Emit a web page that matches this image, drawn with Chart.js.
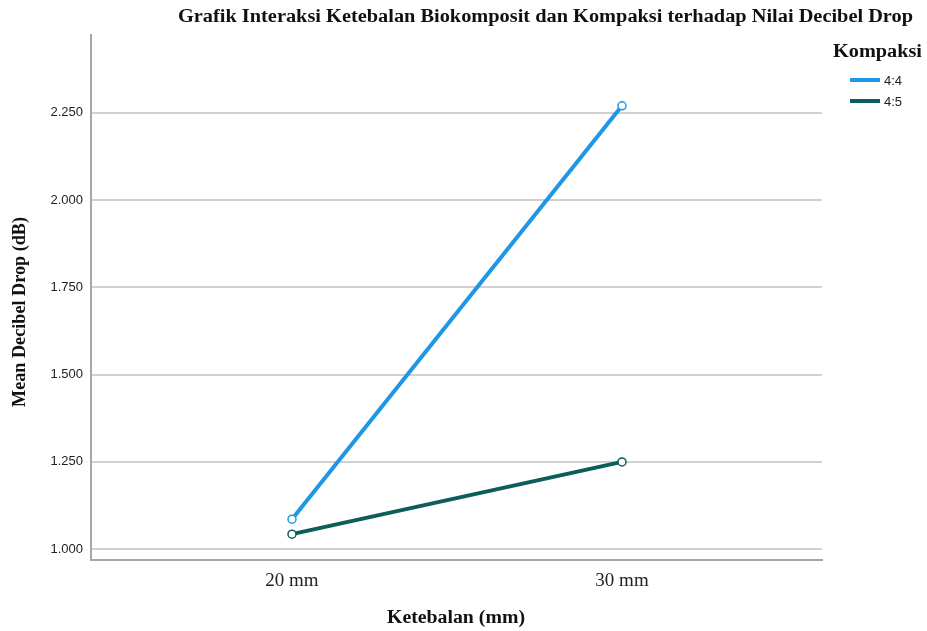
<!DOCTYPE html>
<html><head><meta charset="utf-8">
<script src="https://cdn.jsdelivr.net/npm/chart.js@4.4.1/dist/chart.umd.min.js"></script>
<style>html,body{margin:0;padding:0;background:#fff}#wrap{width:927px;height:631px;position:relative}</style>
</head><body><div id="wrap"><canvas id="c"></canvas></div>
<script>
const categories = [20, 30];
const categoryLabels = ['20 mm', '30 mm'];
const series44 = [1.086, 2.270];
const series45 = [1.043, 1.250];
const seriesNames = ['4:4', '4:5'];
const yTicks = [1.000, 1.250, 1.500, 1.750, 2.000, 2.250];
const titleText = 'Grafik Interaksi Ketebalan Biokomposit dan Kompaksi terhadap Nilai Decibel Drop';
const xTitle = 'Ketebalan (mm)';
const yTitle = 'Mean Decibel Drop (dB)';
const legendTitle = 'Kompaksi';
const colors = ['#1f96e6', '#0b5e5a'];

function pts(vals){ return categories.map((c,i)=>({x:c,y:vals[i]})); }

function fitText(ctx, text, x, y, width, align){
  const tw = ctx.measureText(text).width;
  ctx.save();
  ctx.translate(x, y);
  ctx.scale(width/tw, 1);
  ctx.textAlign = align;
  ctx.fillText(text, 0, 0);
  ctx.restore();
}

const deco = {
  id:'deco',
  afterDraw(chart){
    const ctx = chart.ctx;
    ctx.save();
    ctx.fillStyle = '#111';
    ctx.textBaseline = 'middle';
    ctx.font = 'bold 18px "Liberation Serif", serif';
    fitText(ctx, titleText, 913, 17, 735, 'right');
    fitText(ctx, xTitle, 456, 618, 138, 'center');
    ctx.save();
    ctx.translate(20, 312);
    ctx.rotate(-Math.PI/2);
    fitText(ctx, yTitle, 0, 0, 190, 'center');
    ctx.restore();
    fitText(ctx, legendTitle, 833, 52, 89, 'left');
    ctx.font = '13px "Liberation Sans", Arial, sans-serif';
    ctx.textAlign = 'left';
    seriesNames.forEach((n,i)=>{
      const y = 80 + i*21;
      ctx.strokeStyle = colors[i];
      ctx.lineWidth = 4;
      ctx.beginPath(); ctx.moveTo(850,y); ctx.lineTo(880,y); ctx.stroke();
      ctx.fillStyle = '#222';
      ctx.fillText(n, 884, y+1);
    });
    ctx.restore();
  }
};

new Chart(document.getElementById('c'), {
  type:'line',
  data:{datasets:[
    {label:seriesNames[0], data:pts(series44), borderColor:colors[0], backgroundColor:'#fff', borderWidth:4, pointRadius:4, pointBorderWidth:1.5, pointBackgroundColor:'#fff', pointBorderColor:colors[0]},
    {label:seriesNames[1], data:pts(series45), borderColor:colors[1], backgroundColor:'#fff', borderWidth:4, pointRadius:4, pointBorderWidth:1.5, pointBackgroundColor:'#fff', pointBorderColor:colors[1]}
  ]},
  options:{
    responsive:true, maintainAspectRatio:false, animation:false,
    layout:{padding:{top:35,right:105,left:0,bottom:0}},
    plugins:{legend:{display:false}, title:{display:false}, tooltip:{enabled:false}},
    scales:{
      x:{type:'linear', min:13.91, max:36.06,
        afterBuildTicks(s){ s.ticks = categories.map(v=>({value:v})); },
        afterFit(s){ s.height = 71; },
        ticks:{callback:(v)=>categoryLabels[categories.indexOf(v)] ?? '', color:'#222', font:{family:'"Liberation Serif", serif', size:19}, padding:10, maxRotation:0, autoSkip:false},
        grid:{display:false, drawTicks:false},
        border:{display:true, color:'#a6a6a6', width:2}
      },
      y:{min:0.969, max:2.473,
        afterBuildTicks(s){ s.ticks = yTicks.map(v=>({value:v})); },
        afterFit(s){ s.width = 91; },
        ticks:{callback:(v)=>v.toFixed(3), color:'#222', font:{family:'"Liberation Sans", Arial, sans-serif', size:13}, padding:8},
        grid:{color:'#d0d0d0', lineWidth:2, drawTicks:false},
        border:{display:true, color:'#a6a6a6', width:2}
      }
    }
  },
  plugins:[deco]
});
</script></body></html>
